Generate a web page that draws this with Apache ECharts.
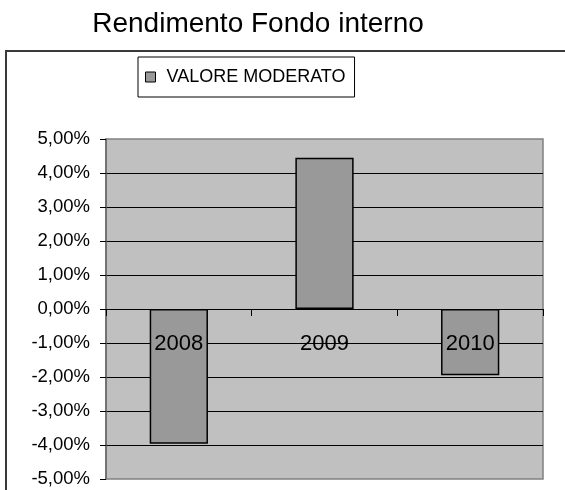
<!DOCTYPE html>
<html>
<head>
<meta charset="utf-8">
<script src="https://cdn.jsdelivr.net/npm/echarts@6/dist/echarts.min.js"></script>
<style>
html,body{margin:0;padding:0;background:#fff;}
#chart{width:565px;height:490px;}
</style>
</head>
<body>
<div id="chart"></div>
<script>
var categories = ['2008', '2009', '2010'];
var seriesName = 'VALORE MODERATO';
var values = [-3.96, 4.45, -1.95];
var yMin = -5, yMax = 5, yStep = 1;
var titleText = 'Rendimento Fondo interno';

var FONT = '"Liberation Sans", Arial, sans-serif';
var chart = echarts.init(document.getElementById('chart'), null, {renderer: 'canvas'});
var gridTop = 139, gridBottom = 11, chartH = 490;
var plotH = chartH - gridTop - gridBottom;
// distance from plot bottom to the zero line, through the value scale
var zeroOffset = -plotH * (0 - yMin) / (yMax - yMin);

chart.setOption({
  backgroundColor: '#ffffff',
  animation: false,
  title: {
    text: titleText,
    left: 258,
    textAlign: 'center',
    top: 10,
    padding: 0,
    textStyle: {fontFamily: FONT, fontSize: 28, fontWeight: 'normal', color: '#000'}
  },
  graphic: [{
    type: 'rect',
    shape: {x: 6, y: 51, width: 700, height: 600},
    style: {fill: null, stroke: '#3a3a3a', lineWidth: 2},
    z: -1
  }],
  legend: {
    left: 138,
    top: 57,
    padding: [11, 9, 11, 7],
    backgroundColor: '#fff',
    borderColor: '#000',
    borderWidth: 1,
    borderRadius: 0,
    itemWidth: 10,
    itemHeight: 10,
    icon: 'rect',
    itemStyle: {borderColor: '#000', borderWidth: 1},
    textStyle: {fontFamily: FONT, fontSize: 18, color: '#000', padding: [0, 0, 0, 6]},
    data: [seriesName]
  },
  grid: {
    left: 106, right: 22, top: gridTop, bottom: gridBottom,
    show: true,
    backgroundColor: '#c0c0c0',
    borderColor: '#808080',
    borderWidth: 1.5,
    containLabel: false,
    outerBoundsMode: 'none'
  },
  xAxis: {
    type: 'category',
    data: categories,
    z: 10,
    position: 'bottom',
    offset: zeroOffset,
    axisLine: {onZero: false, lineStyle: {color: '#000', width: 1}},
    axisTick: {show: true, length: 7, lineStyle: {color: '#000'}},
    axisLabel: {fontFamily: FONT, fontSize: 22, color: '#000', margin: 24},
    splitLine: {show: false}
  },
  yAxis: {
    type: 'value',
    min: yMin, max: yMax, interval: yStep,
    axisLine: {show: true, lineStyle: {color: '#666', width: 1.5}},
    axisTick: {show: true, length: 6, lineStyle: {color: '#000'}},
    axisLabel: {
      fontFamily: FONT, fontSize: 18.5, color: '#000', margin: 16,
      formatter: function (v) { return v.toFixed(2).replace('.', ',') + '%'; }
    },
    splitLine: {show: true, showMinLine: false, showMaxLine: false, lineStyle: {color: '#000', width: 1}}
  },
  series: [{
    name: seriesName,
    type: 'bar',
    data: values,
    barCategoryGap: '60%',
    itemStyle: {color: '#999999', borderColor: '#000', borderWidth: 1.5}
  }]
});
</script>
</body>
</html>
